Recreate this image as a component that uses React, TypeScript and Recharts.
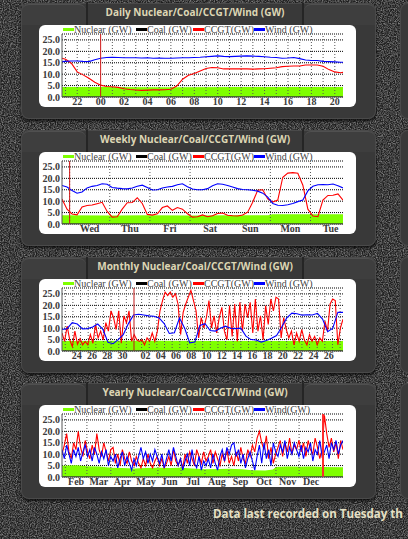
import React from 'react';
import { ComposedChart, Line, Area, XAxis, YAxis, CartesianGrid, ReferenceLine } from 'recharts';

// ---------------- Daily (hours relative to midnight) ----------------
const dailyHours = [-3.3, -3, -2.5, -2, -1.5, -1, -0.5, 0, 0.5, 1, 1.5, 2, 2.5, 3, 3.5, 4, 4.5, 5, 5.5, 6, 6.5, 7, 7.5, 8, 8.5, 9, 9.5, 10, 10.5, 11, 11.5, 12, 12.5, 13, 13.5, 14, 14.5, 15, 15.5, 16, 16.5, 17, 17.5, 18, 18.5, 19, 19.5, 20, 20.5, 20.7];
const dailyWind = [15.5, 15.6, 15.8, 15.8, 15.6, 15.5, 16.3, 17.0, 17.3, 17.4, 17.3, 17.2, 17.2, 17.2, 17.1, 17.2, 17.0, 17.1, 17.0, 17.0, 17.1, 17.2, 17.2, 17.3, 17.4, 17.6, 17.8, 18.0, 17.8, 17.7, 17.8, 17.9, 18.0, 17.9, 17.8, 17.6, 17.4, 17.3, 17.0, 17.1, 17.3, 16.8, 16.2, 16.0, 16.0, 15.6, 15.5, 15.4, 15.2, 15.2];
const dailyCcgt = [17.0, 16.5, 14.8, 11.0, 9.7, 8.2, 6.5, 5.2, 4.6, 4.5, 4.2, 3.6, 3.3, 3.1, 2.9, 3.0, 3.1, 3.1, 3.2, 3.4, 4.8, 7.8, 9.5, 10.3, 11.4, 12.5, 12.9, 12.8, 12.3, 12.3, 12.3, 12.3, 12.3, 12.2, 12.3, 12.4, 12.6, 12.8, 13.3, 13.5, 13.6, 13.6, 14.0, 14.0, 14.0, 13.5, 12.0, 11.0, 10.6, 10.8];
const dailyNuclearT = [-3.3, 0, 6, 12, 18, 20.7];
const dailyNuclearV = [4.4, 4.4, 4.3, 4.4, 4.4, 4.4];
const dailyCoalT = [-3.3, 20.7];
const dailyCoalV = [0, 0];
const dailyDomain = [-3.3, 20.7];
const dailyTicks = [-2, 0, 2, 4, 6, 8, 10, 12, 14, 16, 18, 20];
const dailyTickLabels = ['22', '00', '02', '04', '06', '08', '10', '12', '14', '16', '18', '20'];
const dailyGrid = [-3, -2, -1, 1, 2, 3, 4, 5, 6, 7, 8, 9, 10, 11, 12, 13, 14, 15, 16, 17, 18, 19, 20];

// ---------------- Weekly (days from Wed 00:00), 3-hourly samples ----------------
const weeklyStart = -0.19;
const weeklyStep = 0.125;
const weeklyWind = [16.9, 16.2, 14.7, 13.5, 14.0, 15.8, 16.5, 16.9, 17.6, 17.4, 16.0, 15.7, 15.5, 15.4, 15.8, 16.5, 17.0, 16.0, 14.9, 15.0, 15.8, 16.2, 16.5, 17.2, 17.6, 16.3, 15.3, 15.0, 15.0, 15.5, 16.8, 17.6, 17.4, 16.9, 16.2, 15.5, 15.1, 15.0, 14.8, 14.4, 13.5, 11.8, 9.0, 8.2, 8.1, 8.4, 9.0, 9.8, 10.5, 14.5, 16.5, 17.2, 17.3, 17.2, 17.5, 16.8, 15.8];
const weeklyCcgt = [11.0, 6.5, 4.4, 4.0, 7.5, 8.1, 8.3, 8.9, 9.5, 5.5, 3.0, 3.2, 6.5, 9.3, 9.4, 11.5, 9.0, 4.2, 3.9, 4.5, 7.2, 7.9, 6.0, 7.2, 6.5, 4.5, 3.0, 3.2, 4.0, 3.2, 3.6, 4.6, 4.8, 3.8, 3.6, 3.5, 3.9, 5.2, 9.5, 14.8, 15.0, 11.0, 9.6, 10.5, 20.5, 22.3, 22.5, 22.2, 17.0, 6.5, 3.5, 3.2, 10.5, 12.5, 12.6, 13.2, 10.5];
const weeklyNuclearT = [-0.19, 1, 2, 3, 4, 4.95, 5.05, 6.81];
const weeklyNuclearV = [3.8, 3.7, 3.8, 3.7, 3.8, 3.8, 4.3, 4.3];
const weeklyCoalT = [-0.19, 6.81];
const weeklyCoalV = [0, 0];
const weeklyDomain = [-0.19, 6.81];
const weeklyTicks = [0.5, 1.5, 2.5, 3.5, 4.5, 5.5, 6.5];
const weeklyTickLabels = ['Wed', 'Thu', 'Fri', 'Sat', 'Sun', 'Mon', 'Tue'];
const weeklyGrid = [0, 1, 2, 3, 5, 6];

// ---------------- Monthly (days from the 1st) ----------------
const monthlyStart = -9.43;
const monthlyEnd = 27.38;
const monthlyCcgt = [7.9, 4.2, 10.9, 4.9, 1.9, 8.7, 3.0, 5.4, 2.7, 4.2, 2.7, 7.2, 3.4, 11.6, 5.7, 8.7, 4.9, 12.4, 8.7, 17.6, 14.6, 9.4, 17.6, 3.4, 15.4, 12.4, 17.6, 4.2, 7.2, 4.9, 4.2, 4.9, 2.7, 5.7, 4.2, 7.9, 4.2, 8.7, 17.6, 22.1, 25.8, 24.3, 25.8, 23.6, 25.1, 20.6, 7.2, 16.9, 20.6, 23.6, 26.6, 22.1, 17.6, 5.7, 14.6, 10.1, 14.6, 22.1, 10.1, 15.4, 7.9, 14.6, 19.1, 8.7, 4.9, 19.9, 6.4, 20.6, 4.2, 21.3, 8.7, 20.6, 14.6, 21.3, 7.9, 22.8, 8.7, 15.4, 4.9, 19.9, 11.6, 22.8, 17.6, 23.6, 22.8, 5.7, 14.6, 9.4, 5.7, 8.7, 2.7, 7.9, 4.2, 9.4, 4.9, 2.7, 7.2, 4.2, 6.4, 2.7, 5.7, 4.2, 13.1, 8.7, 20.6, 22.8, 22.1, 2.7, 10.1, 13.9];
const monthlyWind = [9.4, 9.8, 12.4, 11.8, 9.7, 9.8, 10.5, 11.8, 9.5, 3.8, 3.2, 5.0, 7.2, 12.0, 15.8, 16.1, 15.8, 15.4, 15.2, 14.5, 12.0, 7.7, 8.0, 14.5, 10.0, 3.6, 3.9, 11.2, 12.0, 9.0, 8.7, 10.0, 10.9, 10.0, 9.8, 10.0, 6.5, 5.0, 4.8, 3.9, 4.6, 5.6, 6.8, 10.5, 14.5, 16.6, 16.3, 15.7, 15.9, 15.8, 16.5, 14.0, 8.5, 10.0, 17.0, 16.9];
const monthlyNuclearT = [-9.43, 0, 10, 20, 27.38];
const monthlyNuclearV = [4.4, 4.5, 4.4, 4.4, 4.4];
const monthlyCoalT = [-9.43, 27.38];
const monthlyCoalV = [0, 0];
const monthlyTicks = [-7.5, -5.5, -3.5, -1.5, 1.5, 3.5, 5.5, 7.5, 9.5, 11.5, 13.5, 15.5, 17.5, 19.5, 21.5, 23.5, 25.5];
const monthlyTickLabels = ['24', '26', '28', '30', '02', '04', '06', '08', '10', '12', '14', '16', '18', '20', '22', '24', '26'];
const monthlyGrid = [-9, -8, -7, -6, -5, -4, -3, -2, -1, 1, 2, 3, 4, 5, 6, 7, 8, 9, 10, 11, 12, 13, 14, 15, 16, 17, 18, 19, 20, 21, 22, 23, 24, 25, 26, 27];

// ---------------- Yearly (days from 1 Jan) ----------------
const yearlyStart = -338.3;
const yearlyEnd = 25.9;
const yearlyCcgt = [10, 14, 19, 11, 8, 15, 12, 20, 13, 9, 16, 11, 8, 14, 10, 19, 12, 9, 15, 11, 7, 12, 13, 6, 10, 5, 12, 8, 6, 11, 7, 5, 9, 6, 4, 8, 5, 10, 6, 4, 7, 9, 5, 8, 4, 6, 9, 5, 12, 7, 5, 8, 4, 10, 6, 11, 8, 5, 12, 9, 6, 11, 7, 9, 12, 6, 11, 8, 5, 10, 7, 12, 6, 9, 5, 11, 7, 13, 8, 6, 12, 9, 14, 11, 17, 20, 15, 12, 18, 8, 13, 6, 10, 13, 16, 9, 15, 11, 17, 10, 14, 12, 16, 11, 15, 9, 16, 12, 10, 17, 13, 8, 12, 27, 19, 13, 17, 11, 15, 8, 16, 12];
const yearlyWind = [12, 8, 14, 10, 6, 12, 9, 13, 7, 11, 14, 9, 12, 7, 13, 10, 6, 11, 8, 12, 5, 9, 7, 10, 4, 8, 11, 5, 9, 6, 3, 8, 5, 9, 13, 8, 11, 6, 10, 7, 12, 9, 6, 10, 4, 8, 12, 7, 13, 9, 5, 8, 3, 7, 10, 5, 12, 6, 4, 9, 3, 7, 5, 8, 4, 10, 6, 3, 9, 12, 7, 13, 10, 14, 15, 9, 12, 6, 10, 4, 8, 11, 7, 3, 9, 14, 6, 15, 8, 12, 5, 15, 11, 9, 14, 11, 16, 8, 13, 10, 15, 12, 9, 14, 8, 13, 11, 15, 7, 12, 10, 16, 9, 11, 14, 8, 15, 12, 16, 10, 14, 16];
const yearlyNuclearT = [-338.3, -320, -306, -290, -275, -260, -245, -230, -214, -200, -184, -170, -153, -135, -122, -105, -92, -75, -65, -61, -45, -31, -15, 0, 25.9];
const yearlyNuclearV = [4.9, 5.1, 4.7, 4.6, 4.1, 3.9, 3.7, 3.9, 4.0, 3.9, 4.0, 3.7, 3.4, 3.5, 3.6, 3.4, 3.0, 2.9, 3.3, 4.4, 4.6, 4.5, 4.6, 4.4, 4.3];
const yearlyCoalT = [-338.3, 25.9];
const yearlyCoalV = [0, 0];
const yearlyTicks = [-320, -290.5, -260, -229.5, -199, -168.5, -137.5, -107, -76.5, -46, -15.5];
const yearlyTickLabels = ['Feb', 'Mar', 'Apr', 'May', 'Jun', 'Jul', 'Aug', 'Sep', 'Oct', 'Nov', 'Dec'];
const yearlyGrid = [-334, -306, -275, -245, -214, -184, -153, -122, -92, -61, -31];

const yTicks = [0, 5, 10, 15, 20, 25];
const yDomain = [0, 27.6];

type Pt = { t: number; v: number };
const pairs = (times: number[], values: number[]): Pt[] => values.map((v, i) => ({ t: times[i], v }));
const spread = (start: number, end: number, values: number[]): Pt[] =>
  values.map((v, i) => ({ t: start + ((end - start) * i) / (values.length - 1), v }));

const GREEN = '#7fff00';
const TICK_FONT = { fontSize: 10, fontFamily: '"Liberation Serif", serif', fill: '#3a3a3a', fontWeight: 700 };

type ChartProps = {
  windLabel: string;
  domain: number[];
  ticks: number[];
  tickLabels: string[];
  grid: number[];
  markerWidth: number;
  markerColor: string;
  nuclear: Pt[];
  coal: Pt[];
  ccgt: Pt[];
  wind: Pt[];
};

function SmallChart(p: ChartProps) {
  const labelFor = (v: number) => {
    const i = p.ticks.indexOf(v);
    return i >= 0 ? p.tickLabels[i] : '';
  };
  const legend = [
    { label: 'Nuclear (GW)', color: GREEN, x: 24 },
    { label: 'Coal (GW)', color: '#000', x: 97 },
    { label: 'CCGT(GW)', color: '#ff0000', x: 154 },
    { label: p.windLabel, color: '#0000ff', x: 215 },
  ];
  return (
    <div style={{ position: 'relative', width: 317, height: 82 }}>
      <ComposedChart width={317} height={82} margin={{ top: 9, right: 13, bottom: 0, left: 0 }}>
        <CartesianGrid vertical={false} stroke="#000" strokeDasharray="1 1" />
        <XAxis
          dataKey="t"
          type="number"
          domain={p.domain}
          allowDataOverflow
          ticks={p.ticks}
          interval={0}
          tickFormatter={labelFor}
          height={10}
          tickSize={0}
          tickMargin={1}
          axisLine={{ stroke: '#555' }}
          tick={TICK_FONT}
        />
        <YAxis
          type="number"
          domain={yDomain}
          allowDataOverflow
          ticks={yTicks}
          interval={0}
          tickFormatter={(v: number) => v.toFixed(1)}
          width={23}
          tickSize={0}
          tickMargin={2}
          axisLine={{ stroke: '#555' }}
          tick={TICK_FONT}
        />
        <XAxis xAxisId="top" orientation="top" type="number" domain={[0, 1]} tick={false} height={0} axisLine={{ stroke: '#555' }} />
        <YAxis yAxisId="right" orientation="right" type="number" domain={[0, 1]} tick={false} width={0} axisLine={{ stroke: '#555' }} />
        <Area data={p.nuclear} dataKey="v" type="linear" stroke="none" fill={GREEN} fillOpacity={1} isAnimationActive={false} />
        {p.grid.map((g) => (
          <ReferenceLine key={g} x={g} stroke="#555" strokeDasharray="1 2" />
        ))}
        <Line data={p.coal} dataKey="v" type="linear" stroke="#000" strokeWidth={1} dot={false} isAnimationActive={false} />
        <Line data={p.ccgt} dataKey="v" type="linear" stroke="#ff0000" strokeWidth={1.1} dot={false} isAnimationActive={false} />
        <Line data={p.wind} dataKey="v" type="linear" stroke="#0000ff" strokeWidth={1.1} dot={false} isAnimationActive={false} />
        <ReferenceLine x={0} stroke={p.markerColor} strokeWidth={p.markerWidth} />
      </ComposedChart>
      {legend.map((it) => (
        <div key={it.label} style={{ position: 'absolute', left: it.x, top: 0, height: 9, display: 'flex', alignItems: 'center', whiteSpace: 'nowrap' }}>
          <span style={{ display: 'inline-block', width: 11, height: 3, background: it.color }} />
          <span style={{ font: '10px "Liberation Serif", serif', color: '#444', lineHeight: '9px' }}>{it.label}</span>
        </div>
      ))}
    </div>
  );
}

function Panel({ top, title, children }: { top: number; title: string; children: React.ReactNode }) {
  return (
    <>
      <div style={{ position: 'absolute', left: 21, top, width: 355, height: 116, borderRadius: 8, background: '#393939', boxShadow: 'inset 0 0 0 1px #4a4a4a, 0 2px 3px rgba(0,0,0,0.7)' }} />
      <div style={{ position: 'absolute', left: 22, top: top + 1, width: 64, height: 20, borderRadius: '7px 7px 0 0', background: '#3e3e3e', borderTop: '1px solid #505050' }} />
      <div style={{ position: 'absolute', left: 304, top: top + 1, width: 71, height: 20, borderRadius: '7px 7px 0 0', background: '#3e3e3e', borderTop: '1px solid #505050' }} />
      <div style={{ position: 'absolute', left: 86, top, width: 2, height: 22, background: '#252525' }} />
      <div style={{ position: 'absolute', left: 302, top, width: 2, height: 22, background: '#252525' }} />
      <div style={{ position: 'absolute', left: 88, top: top + 2, width: 214, height: 19, lineHeight: '19px', textAlign: 'center', color: '#ddd6b4', font: 'bold 10px "Open Sans", sans-serif' }}>
        {title}
      </div>
      <div style={{ position: 'absolute', left: 39, top: top + 22, width: 317, height: 82, borderRadius: 6, background: '#fff', overflow: 'hidden' }}>{children}</div>
      <div style={{ position: 'absolute', left: 400, top, width: 30, height: 116, borderRadius: 8, background: '#393939', boxShadow: 'inset 0 0 0 1px #4a4a4a' }} />
    </>
  );
}

export default function App() {
  const tops = [3, 130, 257, 383];
  return (
    <div style={{ position: 'fixed', left: 0, top: 0, width: 408, height: 539, overflow: 'hidden', background: '#242424' }}>
      <svg width={408} height={539} style={{ position: 'absolute', left: 0, top: 0 }}>
        <filter id="grain">
          <feTurbulence type="fractalNoise" baseFrequency="0.85" numOctaves={2} seed={4} />
          <feColorMatrix type="matrix" values="0 0 0 0 0.35  0 0 0 0 0.35  0 0 0 0 0.35  1.6 0 0 0 -0.55" />
        </filter>
        <rect width={408} height={539} fill="#1f1f1f" />
        <rect width={408} height={539} filter="url(#grain)" />
      </svg>
      <Panel top={tops[0]} title="Daily Nuclear/Coal/CCGT/Wind (GW)">
        <SmallChart
          windLabel="Wind (GW)"
          domain={dailyDomain}
          ticks={dailyTicks}
          tickLabels={dailyTickLabels}
          grid={dailyGrid}
          markerWidth={1}
          markerColor="#d01818"
          nuclear={pairs(dailyNuclearT, dailyNuclearV)}
          coal={pairs(dailyCoalT, dailyCoalV)}
          ccgt={pairs(dailyHours, dailyCcgt)}
          wind={pairs(dailyHours, dailyWind)}
        />
      </Panel>
      <Panel top={tops[1]} title="Weekly Nuclear/Coal/CCGT/Wind (GW)">
        <SmallChart
          windLabel="Wind (GW)"
          domain={weeklyDomain}
          ticks={weeklyTicks}
          tickLabels={weeklyTickLabels}
          grid={weeklyGrid}
          markerWidth={1}
          markerColor="#d01818"
          nuclear={pairs(weeklyNuclearT, weeklyNuclearV)}
          coal={pairs(weeklyCoalT, weeklyCoalV)}
          ccgt={spread(weeklyStart, weeklyStart + weeklyStep * (weeklyCcgt.length - 1), weeklyCcgt)}
          wind={spread(weeklyStart, weeklyStart + weeklyStep * (weeklyWind.length - 1), weeklyWind)}
        />
      </Panel>
      <Panel top={tops[2]} title="Monthly Nuclear/Coal/CCGT/Wind (GW)">
        <SmallChart
          windLabel="Wind (GW)"
          domain={[monthlyStart, monthlyEnd]}
          ticks={monthlyTicks}
          tickLabels={monthlyTickLabels}
          grid={monthlyGrid}
          markerWidth={1}
          markerColor="#c01818"
          nuclear={pairs(monthlyNuclearT, monthlyNuclearV)}
          coal={pairs(monthlyCoalT, monthlyCoalV)}
          ccgt={spread(monthlyStart, monthlyEnd, monthlyCcgt)}
          wind={spread(monthlyStart, monthlyEnd, monthlyWind)}
        />
      </Panel>
      <Panel top={tops[3]} title="Yearly Nuclear/Coal/CCGT/Wind (GW)">
        <SmallChart
          windLabel="Wind(GW)"
          domain={[yearlyStart, yearlyEnd]}
          ticks={yearlyTicks}
          tickLabels={yearlyTickLabels}
          grid={yearlyGrid}
          markerWidth={2}
          markerColor="#ff2a2a"
          nuclear={pairs(yearlyNuclearT, yearlyNuclearV)}
          coal={pairs(yearlyCoalT, yearlyCoalV)}
          ccgt={spread(yearlyStart, yearlyEnd, yearlyCcgt)}
          wind={spread(yearlyStart, yearlyEnd, yearlyWind)}
        />
      </Panel>
      <div style={{ position: 'absolute', left: 213, top: 506, lineHeight: '16px', whiteSpace: 'nowrap', color: '#e6e0c4', font: 'bold 11.6px "Open Sans", sans-serif', letterSpacing: '-0.05px' }}>
        Data last recorded on Tuesday th
      </div>
    </div>
  );
}
